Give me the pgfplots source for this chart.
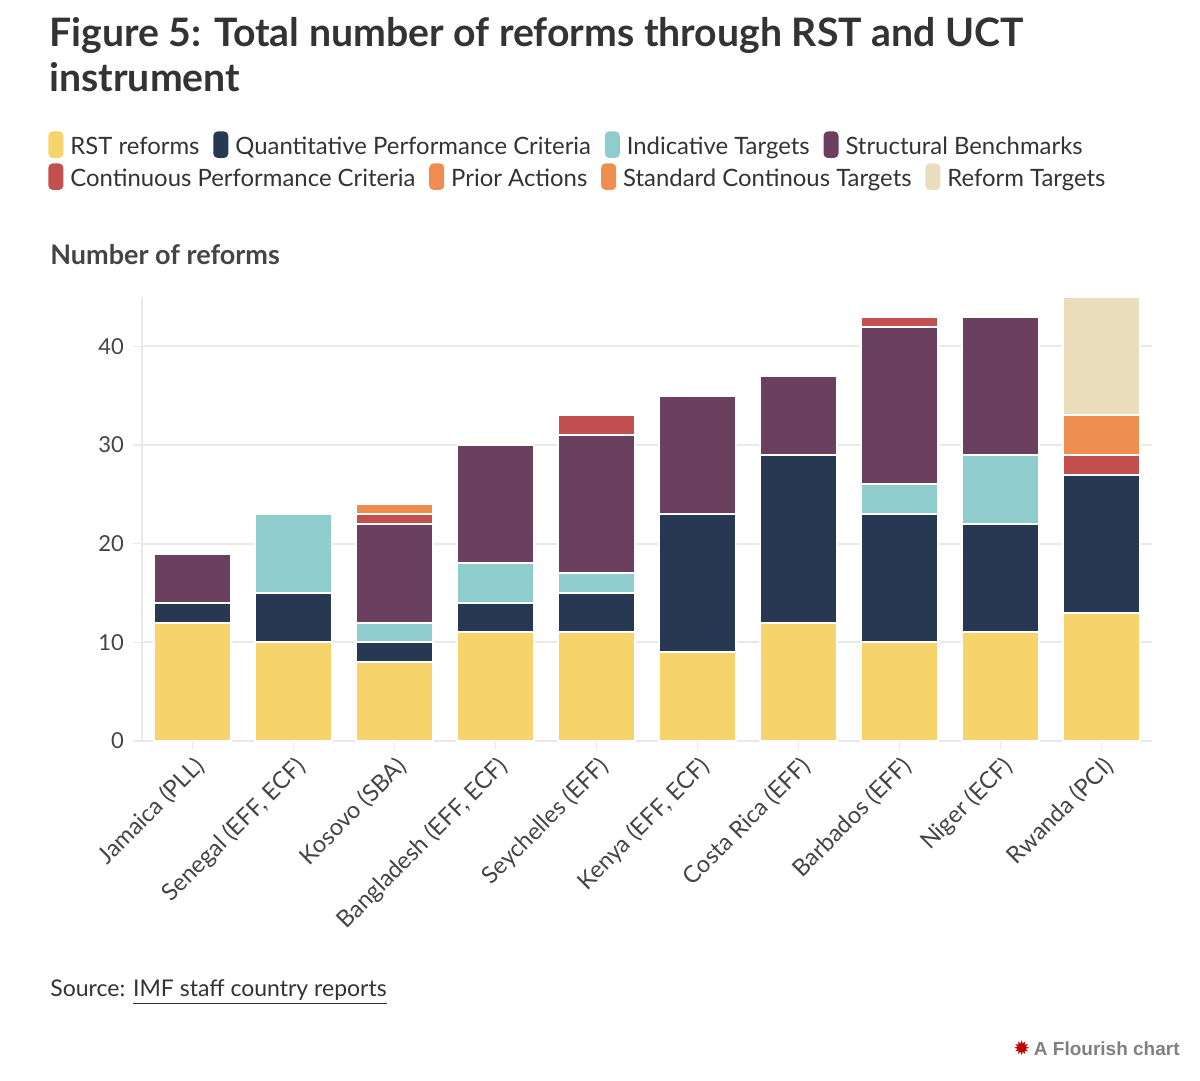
\documentclass[border=0pt]{standalone}
\usepackage{fontspec}
\setmainfont{Lato}
\newfontfamily\arialfont{Liberation Sans}
\newfontfamily\symfont{DejaVu Sans}
\usepackage{pgfplots}
\pgfplotsset{compat=1.18}
\definecolor{cRST}{HTML}{F6D46B}
\definecolor{cQPC}{HTML}{263852}
\definecolor{cIT}{HTML}{8ECDCC}
\definecolor{cSB}{HTML}{6A405E}
\definecolor{cCPC}{HTML}{C2504F}
\definecolor{cPA}{HTML}{F08C4F}
\definecolor{cSCT}{HTML}{EE8F50}
\definecolor{cRT}{HTML}{EADDBC}
\definecolor{titlec}{HTML}{333333}
\definecolor{textc}{HTML}{444444}
\definecolor{gridc}{HTML}{E9E9EB}
\newcommand{\sw}[1]{\tikz[baseline=0pt]\fill[#1, rounded corners=2.2pt] (0,-1.5pt) rectangle (7.5pt,11.8pt);\hspace{3.5pt}}
\begin{document}
\begin{tikzpicture}[x=1pt,y=1pt]
\path[use as bounding box] (0,0) rectangle (600,540.5);
\node[anchor=base west, inner sep=0, text=titlec, font=\fontsize{19.6}{21}\selectfont\bfseries] at (24.5,517) {Figure 5: Total number of reforms through RST and UCT};
\node[anchor=base west, inner sep=0, text=titlec, font=\fontsize{19.6}{21}\selectfont\bfseries] at (24.5,494.5) {instrument};
\tikzset{leg/.style={anchor=base west, inner sep=0, text=titlec, font=\fontsize{11.95}{13}\selectfont}}
\node[leg] (l1) at (24,463) {\sw{cRST}RST reforms};
\node[leg] (l2) at ([xshift=6.5pt]l1.base east) {\sw{cQPC}Quantitative Performance Criteria};
\node[leg] (l3) at ([xshift=6.5pt]l2.base east) {\sw{cIT}Indicative Targets};
\node[leg] (l4) at ([xshift=6.5pt]l3.base east) {\sw{cSB}Structural Benchmarks};
\node[leg] (m1) at (24,447) {\sw{cCPC}Continuous Performance Criteria};
\node[leg] (m2) at ([xshift=6.5pt]m1.base east) {\sw{cPA}Prior Actions};
\node[leg] (m3) at ([xshift=6.5pt]m2.base east) {\sw{cSCT}Standard Continous Targets};
\node[leg] (m4) at ([xshift=6.5pt]m3.base east) {\sw{cRT}Reform Targets};
\node[anchor=base west, inner sep=0, text=textc, font=\fontsize{13.5}{14}\selectfont\bfseries] at (25,408) {Number of reforms};
\begin{axis}[
  at={(71pt,170pt)}, anchor=south west, scale only axis,
  width=505pt, height=222pt,
  ybar stacked, bar width=0.76,
  xmin=-0.5, xmax=9.5, ymin=0, ymax=45,
  ytick={0,10,20,30,40},
  xtick={0,...,9},
  xticklabels={{Jamaica (PLL)},{Senegal (EFF, ECF)},{Kosovo (SBA)},{Bangladesh (EFF, ECF)},{Seychelles (EFF)},{Kenya (EFF, ECF)},{Costa Rica (EFF)},{Barbados (EFF)},{Niger (ECF)},{Rwanda (PCI)}},
  axis x line=bottom, axis y line=left,
  axis line style={draw=gridc, line width=1pt, -},
  ymajorgrids, grid style={draw=gridc, line width=1pt},
  tick align=outside, major tick length=4.5pt,
  tick style={draw=gridc, line width=0.8pt},
  /pgf/number format/assume math mode=true,
  y tick label style={text=textc, font=\fontsize{11}{12}\selectfont, xshift=-1pt},
  x tick label style={rotate=45, anchor=north east, text=textc, font=\fontsize{11.8}{13}\selectfont, inner sep=1.5pt},
  every axis plot/.append style={draw=white, line width=1pt},
  clip=false,
]
\addplot[fill=cRST] coordinates {(0,12) (1,10) (2,8) (3,11) (4,11) (5,9) (6,12) (7,10) (8,11) (9,13)};
\addplot[fill=cQPC] coordinates {(0,2) (1,5) (2,2) (3,3) (4,4) (5,14) (6,17) (7,13) (8,11) (9,14)};
\addplot[fill=cIT] coordinates {(0,0) (1,8) (2,2) (3,4) (4,2) (5,0) (6,0) (7,3) (8,7) (9,0)};
\addplot[fill=cSB] coordinates {(0,5) (1,0) (2,10) (3,12) (4,14) (5,12) (6,8) (7,16) (8,14) (9,0)};
\addplot[fill=cCPC] coordinates {(0,0) (1,0) (2,1) (3,0) (4,2) (5,0) (6,0) (7,1) (8,0) (9,2)};
\addplot[fill=cPA] coordinates {(0,0) (1,0) (2,1) (3,0) (4,0) (5,0) (6,0) (7,0) (8,0) (9,0)};
\addplot[fill=cSCT] coordinates {(0,0) (1,0) (2,0) (3,0) (4,0) (5,0) (6,0) (7,0) (8,0) (9,4)};
\addplot[fill=cRT] coordinates {(0,0) (1,0) (2,0) (3,0) (4,0) (5,0) (6,0) (7,0) (8,0) (9,12)};
\end{axis}
\node[anchor=base west, inner sep=0, text=titlec, font=\fontsize{11.5}{12}\selectfont] at (25,42) {Source: \underline{IMF staff country reports}};
\node[anchor=base east, inner sep=0, text=gray, font=\arialfont\fontsize{9.5}{10}\selectfont\bfseries] (fl) at (590,12.5) {A Flourish chart};
\node[anchor=base east, inner sep=0, text=red!75!black, font=\symfont\fontsize{10}{10}\selectfont] at ([xshift=-1.5pt]fl.base west) {✹};
\end{tikzpicture}
\end{document}
